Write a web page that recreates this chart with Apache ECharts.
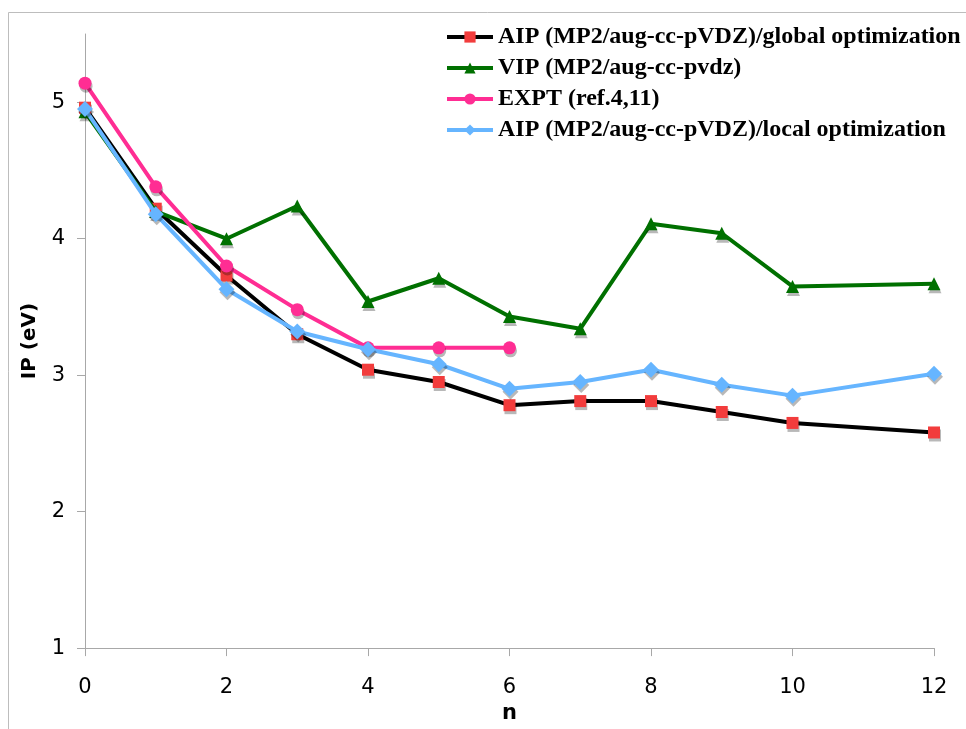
<!DOCTYPE html>
<html>
<head>
<meta charset="utf-8">
<script src="https://cdn.jsdelivr.net/npm/echarts@6/dist/echarts.min.js"></script>
<style>html,body{margin:0;padding:0;background:#fff}#c{width:966px;height:729px}</style>
</head>
<body>
<div id="c"></div>
<script>
const nValues = [0, 1, 2, 3, 4, 5, 6, 7, 8, 9, 10, 12];
const aipGlobal = [4.96, 4.22, 3.73, 3.30, 3.04, 2.95, 2.78, 2.81, 2.81, 2.73, 2.65, 2.58];
const vip = [4.93, 4.20, 4.00, 4.24, 3.54, 3.71, 3.43, 3.34, 4.11, 4.04, 3.65, 3.67];
const exptN = [0, 1, 2, 3, 4, 5, 6];
const expt = [5.14, 4.38, 3.80, 3.48, 3.20, 3.20, 3.20];
const aipLocal = [4.95, 4.18, 3.63, 3.32, 3.19, 3.08, 2.90, 2.95, 3.04, 2.93, 2.85, 3.01];
const xTicks = [0, 2, 4, 6, 8, 10, 12];
const yTicks = [1, 2, 3, 4, 5];
const names = [
  'AIP (MP2/aug-cc-pVDZ)/global optimization',
  'VIP (MP2/aug-cc-pvdz)',
  'EXPT (ref.4,11)',
  'AIP (MP2/aug-cc-pVDZ)/local optimization'
];

const pair = (xs, ys) => xs.map((x, i) => [x, ys[i]]);
const shadow = {shadowColor: 'rgba(0,0,0,0.28)', shadowOffsetX: 1, shadowOffsetY: 3, shadowBlur: 0};

const chart = echarts.init(document.getElementById('c'), null, {renderer: 'canvas'});
chart.setOption({
  animation: false,
  backgroundColor: '#fff',
  graphic: [{
    type: 'rect', shape: {x: 8.5, y: 12.5, width: 1000, height: 1000},
    style: {fill: 'none', stroke: '#bdbdbd', lineWidth: 1}, z: -1
  }],
  grid: {left: 85, right: 32, top: 34, bottom: 80, containLabel: false},
  legend: {
    orient: 'vertical', left: 440, top: 20, itemWidth: 46, itemHeight: 14, itemGap: 7,
    lineStyle: {width: 4},
    textStyle: {fontFamily: 'Liberation Serif', fontWeight: 'bold', fontSize: 24, color: '#000'},
    data: names
  },
  xAxis: {
    type: 'value', min: 0, max: 12, interval: 2,
    name: 'n', nameLocation: 'middle', nameGap: 52,
    nameTextStyle: {fontFamily: 'DejaVu Sans', fontWeight: 'bold', fontSize: 21, color: '#000'},
    axisLine: {show: true, lineStyle: {color: '#a8a8a8', width: 1}},
    axisTick: {show: true, length: 8, lineStyle: {color: '#a8a8a8'}, customValues: xTicks},
    axisLabel: {customValues: xTicks, margin: 29, fontFamily: 'DejaVu Sans', fontSize: 21, color: '#000'},
    splitLine: {show: false}
  },
  yAxis: {
    type: 'value', min: 1, max: 5.5, interval: 1,
    name: 'IP (eV)', nameLocation: 'middle', nameGap: 45, nameRotate: 90,
    nameTextStyle: {fontFamily: 'DejaVu Sans', fontWeight: 'bold', fontSize: 20, color: '#000'},
    axisLine: {show: true, lineStyle: {color: '#a8a8a8', width: 1}},
    axisTick: {show: true, length: 8, lineStyle: {color: '#a8a8a8'}, customValues: yTicks},
    axisLabel: {customValues: yTicks, margin: 20, fontFamily: 'DejaVu Sans', fontSize: 21, color: '#000'},
    splitLine: {show: false}
  },
  series: [
    {
      name: names[0], type: 'line', data: pair(nValues, aipGlobal),
      symbol: 'rect', symbolSize: 12,
      lineStyle: {color: '#000', width: 4},
      itemStyle: Object.assign({color: '#f23c3c'}, shadow), z: 2
    },
    {
      name: names[1], type: 'line', data: pair(nValues, vip),
      symbol: 'triangle', symbolSize: 13,
      lineStyle: {color: '#007000', width: 4},
      itemStyle: Object.assign({color: '#007000'}, shadow), z: 3
    },
    {
      name: names[2], type: 'line', data: pair(exptN, expt),
      symbol: 'circle', symbolSize: 13,
      lineStyle: {color: '#ff2d93', width: 4},
      itemStyle: Object.assign({color: '#ff2d93'}, shadow), z: 4
    },
    {
      name: names[3], type: 'line', data: pair(nValues, aipLocal),
      symbol: 'diamond', symbolSize: 16,
      lineStyle: {color: '#66b5ff', width: 4},
      itemStyle: Object.assign({color: '#66b5ff'}, shadow), z: 5
    }
  ]
});
</script>
</body>
</html>
